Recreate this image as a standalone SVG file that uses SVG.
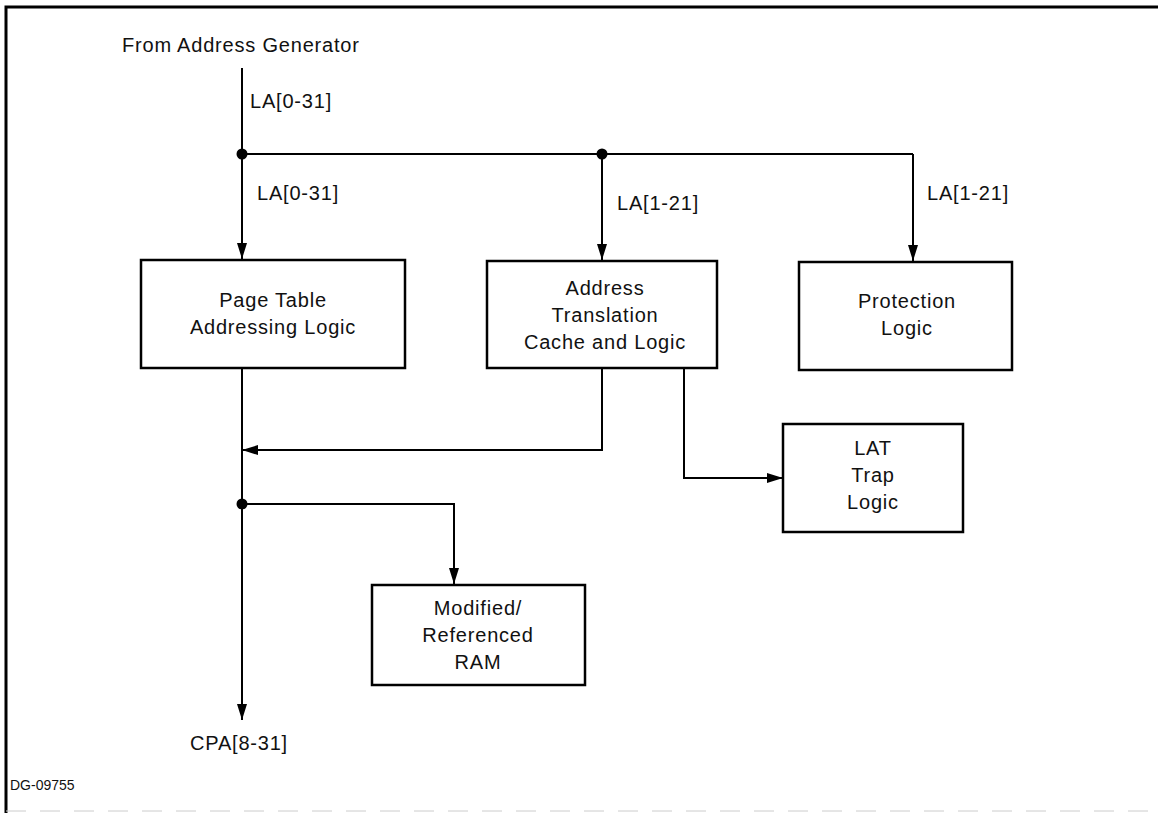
<svg xmlns="http://www.w3.org/2000/svg" width="1158" height="813" viewBox="0 0 1158 813">
<defs>
<marker id="ah" markerWidth="16" markerHeight="10" refX="16" refY="5" orient="auto" markerUnits="userSpaceOnUse" viewBox="0 0 16 10">
<path d="M0,0 L16,5 L0,10 Z" fill="#000"/>
</marker>
<style>
.t{font-family:"Liberation Sans",Arial,sans-serif;font-size:20px;letter-spacing:0.8px;fill:#111}
.c{text-anchor:middle}
.box{fill:#fff;stroke:#000;stroke-width:2.5}
.ln{fill:none;stroke:#000;stroke-width:2}
.ar{marker-end:url(#ah)}
</style>
</defs>
<rect width="1158" height="813" fill="#fff"/>
<path d="M6,813 V7 H1158" fill="none" stroke="#000" stroke-width="3"/>
<line x1="6" y1="811" x2="1158" y2="811" stroke="#ccc" stroke-width="1" stroke-dasharray="20 14"/>
<text class="t" x="122" y="52">From Address Generator</text>
<g id="connectors">
<line class="ln" x1="242" y1="68" x2="242" y2="154"/>
<line class="ln" x1="242" y1="154" x2="913" y2="154"/>
<line class="ln ar" x1="242" y1="154" x2="242" y2="259"/>
<line class="ln ar" x1="602" y1="154" x2="602" y2="260"/>
<line class="ln ar" x1="913" y1="154" x2="913" y2="261"/>
<circle cx="242" cy="154" r="5.5"/>
<circle cx="602" cy="154" r="5.5"/>
<line class="ln ar" x1="242" y1="368" x2="242" y2="720"/>
<polyline class="ln ar" points="602,368 602,450 242,450"/>
<polyline class="ln ar" points="684,368 684,478 783,478"/>
<polyline class="ln ar" points="242,504 454,504 454,584"/>
<circle cx="242" cy="504" r="5.5"/>
<text class="t" x="250" y="108">LA[0-31]</text>
<text class="t" x="257" y="200">LA[0-31]</text>
<text class="t" x="617" y="210">LA[1-21]</text>
<text class="t" x="927" y="200">LA[1-21]</text>
</g>
<g id="page-table">
<rect class="box" x="141" y="260" width="264" height="108"/>
<text class="t c" x="273" y="307">Page Table</text>
<text class="t c" x="273" y="334">Addressing Logic</text>
</g>
<g id="atc">
<rect class="box" x="487" y="261" width="230" height="107"/>
<text class="t c" x="605" y="295">Address</text>
<text class="t c" x="605" y="322">Translation</text>
<text class="t c" x="605" y="349">Cache and Logic</text>
</g>
<g id="protection">
<rect class="box" x="799" y="262" width="213" height="108"/>
<text class="t c" x="907" y="308">Protection</text>
<text class="t c" x="907" y="335">Logic</text>
</g>
<g id="lat">
<rect class="box" x="783" y="424" width="180" height="108"/>
<text class="t c" x="873" y="455">LAT</text>
<text class="t c" x="873" y="482">Trap</text>
<text class="t c" x="873" y="509">Logic</text>
</g>
<g id="modref">
<rect class="box" x="372" y="585" width="213" height="100"/>
<text class="t c" x="478" y="615">Modified/</text>
<text class="t c" x="478" y="642">Referenced</text>
<text class="t c" x="478" y="669">RAM</text>
</g>
<text class="t" x="190" y="750">CPA[8-31]</text>
<text class="t" x="10" y="790" style="font-size:14px;letter-spacing:0">DG-09755</text>
</svg>
